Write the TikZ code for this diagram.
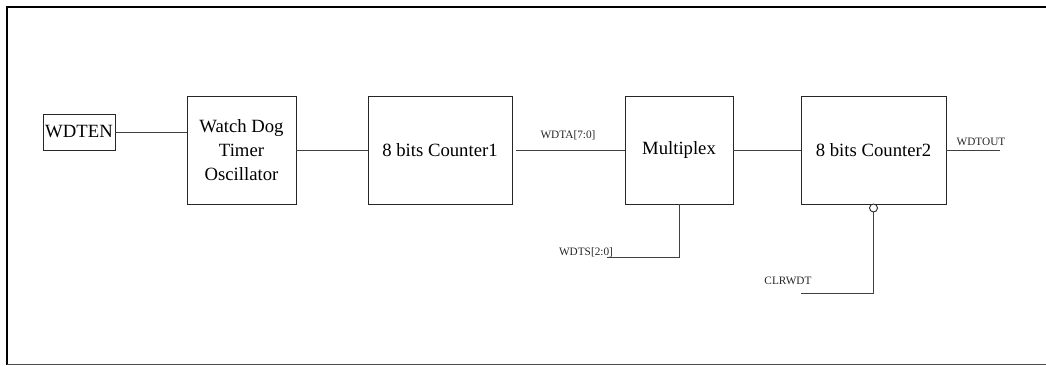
\documentclass[tikz,border=0pt]{standalone}
\usepackage{fontspec}
\setmainfont{Liberation Serif}
\begin{document}
\begin{tikzpicture}[x=1pt,y=-1pt,
  blk/.style={draw=black!85,line width=0.9pt,rectangle,inner sep=0pt,align=center,
    font=\fontsize{18.7}{24}\selectfont},
  wire/.style={draw=black!75,line width=0.9pt},
  lbl/.style={inner sep=0pt,font=\fontsize{11.3}{13}\selectfont,text=black!85}]
\useasboundingbox (0,0) rectangle (1046,365);
% frame
\draw[line width=2pt,black] (7,365) -- (7,7) -- (1046,7);
\draw[line width=0.9pt,black!70] (7,364) -- (1046,364);
% blocks
\node[blk,minimum width=72pt,minimum height=36pt] (wdten) at (79,132) {WDTEN};
\node[blk,minimum width=109pt,minimum height=108pt] (osc) at (241.5,150) {Watch Dog\\Timer\\Oscillator};
\node[blk,minimum width=144pt,minimum height=108pt] (cnt1) at (440,150) {8 bits Counter1};
\node[blk,minimum width=108pt,minimum height=108pt] (mux) at (679,150) {Multiplex};
\node[blk,minimum width=145pt,minimum height=108pt] (cnt2) at (873.5,150) {8 bits Counter2};
\node[draw=black!85,line width=0.9pt,circle,inner sep=0pt,minimum size=8pt,fill=white] (bub) at (873.5,208) {};
% free ends
\coordinate (wdts) at (607,257);
\coordinate (clr) at (801,293);
\coordinate (out) at (1000,150);
% connectors
\draw[wire] (wdten.east) -- (wdten.east -| osc.west);
\draw[wire] (osc.east) -- (cnt1.west);
\draw[wire,shorten <=4pt] (cnt1.east) -- (mux.west);
\draw[wire] (mux.east) -- (cnt2.west);
\draw[wire] (cnt2.east) -- (out);
\draw[wire] (mux.south) -- (mux.south |- wdts) -- (wdts);
\draw[wire] (bub.south) -- (bub.south |- clr) -- (clr);
% labels
\node[lbl] (la) at (568,135) {WDTA[7:0]};
\node[lbl] (ls) at (586,252) {WDTS[2:0]};
\node[lbl] (lo) at (981,142) {WDTOUT};
\node[lbl] (lc) at (788,281) {CLRWDT};
\end{tikzpicture}
\end{document}
